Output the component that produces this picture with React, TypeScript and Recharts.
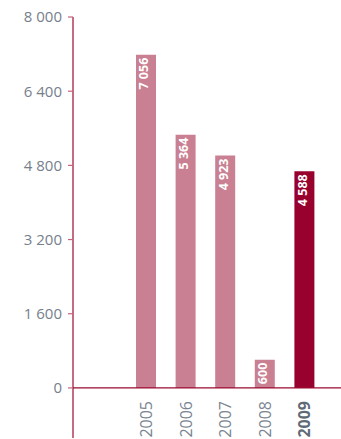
import React from 'react';
import { BarChart, Bar, XAxis, YAxis, ReferenceLine, Cell, LabelList } from 'recharts';

const years = ['2005', '2006', '2007', '2008', '2009'];
const values = [7056, 5364, 4923, 600, 4588];
const highlightYear = '2009';
const yTicks = [0, 1600, 3200, 4800, 6400, 8000];

const data = years.map((y, i) => ({ year: y, value: values[i] }));

const BAR = '#c98092';
const HIGHLIGHT = '#98002e';
const AXIS = '#9b0a30';
const TEXT = '#76808c';
const FONT = '"Open Sans", sans-serif';

const fmt = (v: number) => String(v).replace(/\B(?=(\d{3})+(?!\d))/g, ' ');

const ValueLabel = (props: any) => {
  const { x, y, width, value } = props;
  const cx = x + width / 2 - 2;
  const ty = y + 3;
  return (
    <text
      x={cx}
      y={ty}
      transform={`rotate(-90 ${cx} ${ty})`}
      textAnchor="end"
      dominantBaseline="central"
      fill="#ffffff"
      fontSize={12.5}
      fontWeight={700}
      fontFamily={FONT}
    >
      {fmt(value)}
    </text>
  );
};

const YearLabel = (props: any) => {
  const { x, y, width, height, value } = props;
  const cx = x + width / 2;
  const ty = y + height + 13;
  const bold = value === highlightYear;
  return (
    <text
      x={cx}
      y={ty}
      transform={`rotate(-90 ${cx} ${ty})`}
      textAnchor="end"
      dominantBaseline="central"
      fill={bold ? '#5f6a77' : '#7a8591'}
      fontSize={16}
      fontWeight={bold ? 700 : 400}
      fontFamily={FONT}
    >
      {value}
    </text>
  );
};

export default function App() {
  return (
    <div style={{ position: 'absolute', left: 0, top: 0, width: 341, height: 439 }}>
      <BarChart
        width={341}
        height={439}
        data={data}
        margin={{ top: 17, right: 0, bottom: 1, left: 0 }}
      >
        <XAxis dataKey="year" hide padding={{ left: 53, right: 17 }} />
        <YAxis
          yAxisId="axis"
          width={73}
          domain={[-1080, 8000]}
          allowDataOverflow
          ticks={yTicks}
          tickFormatter={fmt}
          axisLine={{ stroke: AXIS, strokeWidth: 1.2 }}
          tickLine={{ stroke: '#c4637c', strokeWidth: 1.2 }}
          tickSize={5}
          tickMargin={6}
          tick={{ fill: TEXT, fontSize: 15, fontFamily: FONT }}
          interval={0}
        />
        <YAxis yAxisId="bars" hide domain={[-1058, 7854]} allowDataOverflow />
        <ReferenceLine yAxisId="axis" y={0} stroke={AXIS} strokeWidth={1.2} />
        <Bar yAxisId="bars" dataKey="value" barSize={20} isAnimationActive={false}>
          {data.map((d) => (
            <Cell key={d.year} fill={d.year === highlightYear ? HIGHLIGHT : BAR} />
          ))}
          <LabelList dataKey="value" content={ValueLabel} />
          <LabelList dataKey="year" content={YearLabel} />
        </Bar>
      </BarChart>
    </div>
  );
}
